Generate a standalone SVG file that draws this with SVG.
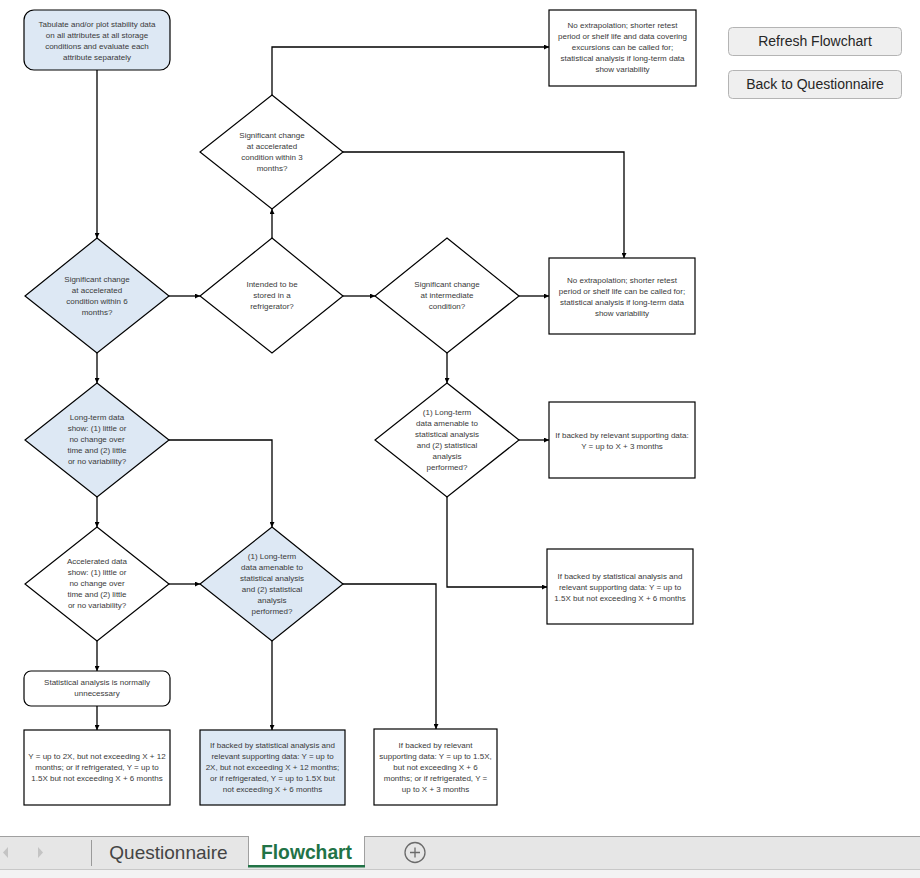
<svg xmlns="http://www.w3.org/2000/svg" width="920" height="878" viewBox="0 0 920 878">
<style>
.n{fill:#fff;stroke:#000;stroke-width:1.2}
.b{fill:#dde8f4;stroke:#000;stroke-width:1.2}
.t{font-family:"Liberation Sans",Arial,sans-serif;font-size:8px;fill:#3a3a3a;text-anchor:middle}
.c{fill:none;stroke:#000;stroke-width:1.3}
.btn{fill:#efefef;stroke:#b4b4b4;stroke-width:1}
.bt{font-family:"Liberation Sans",Arial,sans-serif;font-size:14px;fill:#262626;text-anchor:middle}
</style>
<defs>
<marker id="ah" viewBox="0 0 8 8" refX="8" refY="4" markerWidth="5" markerHeight="5" orient="auto" markerUnits="userSpaceOnUse">
<path d="M0,0 L8,4 L0,8 z" fill="#000"/>
</marker>
</defs>
<rect width="920" height="878" fill="#fff"/>

<g id="connectors">
<path class="c" marker-end="url(#ah)" d="M97,70 V238"/>
<path class="c" marker-end="url(#ah)" d="M169,296 H200"/>
<path class="c" marker-end="url(#ah)" d="M272,238 V209"/>
<path class="c" marker-end="url(#ah)" d="M272,95 V47 H549"/>
<path class="c" marker-end="url(#ah)" d="M343,152 H624 V258"/>
<path class="c" marker-end="url(#ah)" d="M343,296 H375"/>
<path class="c" marker-end="url(#ah)" d="M519,296 H549"/>
<path class="c" marker-end="url(#ah)" d="M447,353 V383"/>
<path class="c" marker-end="url(#ah)" d="M519,440 H549"/>
<path class="c" marker-end="url(#ah)" d="M447,497 V587 H547"/>
<path class="c" marker-end="url(#ah)" d="M97,353 V383"/>
<path class="c" marker-end="url(#ah)" d="M169,440 H272 V527"/>
<path class="c" marker-end="url(#ah)" d="M97,497 V527"/>
<path class="c" marker-end="url(#ah)" d="M169,584 H200"/>
<path class="c" marker-end="url(#ah)" d="M343,584 H436 V729"/>
<path class="c" marker-end="url(#ah)" d="M97,641 V671"/>
<path class="c" marker-end="url(#ah)" d="M97,706 V730"/>
<path class="c" marker-end="url(#ah)" d="M272,641 V730"/>
</g>

<g id="start">
<rect class="b" x="24" y="10" width="146" height="60" rx="10"/>
<text class="t" x="97" y="27">Tabulate and/or plot stability data</text>
<text class="t" x="97" y="38">on all attributes at all storage</text>
<text class="t" x="97" y="49">conditions and evaluate each</text>
<text class="t" x="97" y="60">attribute separately</text>
</g>

<g id="r1">
<rect class="n" x="549" y="10" width="147" height="76"/>
<text class="t" x="622.5" y="28">No extrapolation; shorter retest</text>
<text class="t" x="622.5" y="39">period or shelf life and data covering</text>
<text class="t" x="622.5" y="50">excursions can be called for;</text>
<text class="t" x="622.5" y="61">statistical analysis if long-term data</text>
<text class="t" x="622.5" y="72">show variability</text>
</g>

<g id="d3">
<polygon class="n" points="272,95 343,152 272,209 200,152"/>
<text class="t" x="272" y="138">Significant change</text>
<text class="t" x="272" y="149">at accelerated</text>
<text class="t" x="272" y="160">condition within 3</text>
<text class="t" x="272" y="171">months?</text>
</g>

<g id="d1">
<polygon class="b" points="97,238 169,296 97,353 25,296"/>
<text class="t" x="97" y="282">Significant change</text>
<text class="t" x="97" y="293">at accelerated</text>
<text class="t" x="97" y="304">condition within 6</text>
<text class="t" x="97" y="315">months?</text>
</g>

<g id="d2">
<polygon class="n" points="272,238 343,296 272,353 200,296"/>
<text class="t" x="272" y="287">Intended to be</text>
<text class="t" x="272" y="298">stored in a</text>
<text class="t" x="272" y="309">refrigerator?</text>
</g>

<g id="d4">
<polygon class="n" points="447,238 519,296 447,353 375,296"/>
<text class="t" x="447" y="287">Significant change</text>
<text class="t" x="447" y="298">at intermediate</text>
<text class="t" x="447" y="309">condition?</text>
</g>

<g id="r2">
<rect class="n" x="549" y="258" width="146" height="76"/>
<text class="t" x="622" y="283">No extrapolation; shorter retest</text>
<text class="t" x="622" y="294">period or shelf life can be called for;</text>
<text class="t" x="622" y="305">statistical analysis if long-term data</text>
<text class="t" x="622" y="316">show variability</text>
</g>

<g id="d5">
<polygon class="n" points="447,383 519,440 447,497 375,440"/>
<text class="t" x="447" y="415">(1) Long-term</text>
<text class="t" x="447" y="426">data amenable to</text>
<text class="t" x="447" y="437">statistical analysis</text>
<text class="t" x="447" y="448">and (2) statistical</text>
<text class="t" x="447" y="459">analysis</text>
<text class="t" x="447" y="470">performed?</text>
</g>

<g id="r3">
<rect class="n" x="549" y="402" width="146" height="76"/>
<text class="t" x="622" y="438">If backed by relevant supporting data:</text>
<text class="t" x="622" y="449">Y = up to X + 3 months</text>
</g>

<g id="d6">
<polygon class="b" points="97,383 169,440 97,497 25,440"/>
<text class="t" x="97" y="420">Long-term data</text>
<text class="t" x="97" y="431">show: (1) little or</text>
<text class="t" x="97" y="442">no change over</text>
<text class="t" x="97" y="453">time and (2) little</text>
<text class="t" x="97" y="464">or no variability?</text>
</g>

<g id="r4">
<rect class="n" x="547" y="549" width="146" height="75"/>
<text class="t" x="620" y="579">If backed by statistical analysis and</text>
<text class="t" x="620" y="590">relevant supporting data: Y = up to</text>
<text class="t" x="620" y="601">1.5X but not exceeding X + 6 months</text>
</g>

<g id="d8">
<polygon class="n" points="97,527 169,584 97,641 25,584"/>
<text class="t" x="97" y="564">Accelerated data</text>
<text class="t" x="97" y="575">show: (1) little or</text>
<text class="t" x="97" y="586">no change over</text>
<text class="t" x="97" y="597">time and (2) little</text>
<text class="t" x="97" y="608">or no variability?</text>
</g>

<g id="d7">
<polygon class="b" points="272,527 343,584 272,641 200,584"/>
<text class="t" x="272" y="559">(1) Long-term</text>
<text class="t" x="272" y="570">data amenable to</text>
<text class="t" x="272" y="581">statistical analysis</text>
<text class="t" x="272" y="592">and (2) statistical</text>
<text class="t" x="272" y="603">analysis</text>
<text class="t" x="272" y="614">performed?</text>
</g>

<g id="s">
<rect class="n" x="24" y="671" width="146" height="35" rx="7"/>
<text class="t" x="97" y="685">Statistical analysis is normally</text>
<text class="t" x="97" y="696">unnecessary</text>
</g>

<g id="r5">
<rect class="n" x="24" y="730" width="146" height="75"/>
<text class="t" x="97" y="759">Y = up to 2X, but not exceeding X + 12</text>
<text class="t" x="97" y="770">months; or if refrigerated, Y = up to</text>
<text class="t" x="97" y="781">1.5X but not exceeding X + 6 months</text>
</g>

<g id="r6">
<rect class="b" x="200" y="730" width="145" height="75"/>
<text class="t" x="272.5" y="748">If backed by statistical analysis and</text>
<text class="t" x="272.5" y="759">relevant supporting data: Y = up to</text>
<text class="t" x="272.5" y="770">2X, but not exceeding X + 12 months;</text>
<text class="t" x="272.5" y="781">or if refrigerated, Y = up to 1.5X but</text>
<text class="t" x="272.5" y="792">not exceeding X + 6 months</text>
</g>

<g id="r7">
<rect class="n" x="374" y="729" width="123" height="76"/>
<text class="t" x="435.5" y="748">If backed by relevant</text>
<text class="t" x="435.5" y="759">supporting data: Y = up to 1.5X,</text>
<text class="t" x="435.5" y="770">but not exceeding X + 6</text>
<text class="t" x="435.5" y="781">months; or if refrigerated, Y =</text>
<text class="t" x="435.5" y="792">up to X + 3 months</text>
</g>

<g id="btn-refresh">
<rect class="btn" x="728.5" y="27.5" width="173" height="28" rx="4"/>
<text class="bt" x="815" y="46">Refresh Flowchart</text>
</g>
<g id="btn-back">
<rect class="btn" x="728.5" y="70.5" width="173" height="28" rx="4"/>
<text class="bt" x="815" y="89">Back to Questionnaire</text>
</g>

<g id="tabbar">
<rect x="0" y="836" width="920" height="34" fill="#e6e6e6"/>
<rect x="0" y="869" width="920" height="9" fill="#f3f3f3"/>
<line x1="0" y1="836.5" x2="920" y2="836.5" stroke="#a0a0a0" stroke-width="1"/>
<line x1="0" y1="869.5" x2="920" y2="869.5" stroke="#c8c8c8" stroke-width="1"/>
<polygon points="8,847 8,858 3,852.5" fill="#c4c4c4"/>
<polygon points="38,847 38,858 43,852.5" fill="#c4c4c4"/>
<line x1="91.5" y1="840" x2="91.5" y2="866" stroke="#9a9a9a" stroke-width="1"/>
<text x="168.5" y="859" font-family="'Liberation Sans',Arial,sans-serif" font-size="19" fill="#444" text-anchor="middle">Questionnaire</text>
<rect x="248" y="836" width="116" height="31" fill="#fff"/>
<line x1="248.5" y1="836" x2="248.5" y2="867" stroke="#a0a0a0" stroke-width="1"/>
<line x1="364.5" y1="836" x2="364.5" y2="867" stroke="#a0a0a0" stroke-width="1"/>
<rect x="248" y="865" width="117" height="2.5" fill="#217346"/>
<text x="306.5" y="859" font-family="'Liberation Sans',Arial,sans-serif" font-size="19.3" font-weight="bold" fill="#217346" text-anchor="middle">Flowchart</text>
<circle cx="415" cy="852.5" r="10" fill="none" stroke="#6b6b6b" stroke-width="1.3"/>
<path d="M410,852.5 H420 M415,847.5 V857.5" stroke="#6b6b6b" stroke-width="1.3"/>
</g>
</svg>
